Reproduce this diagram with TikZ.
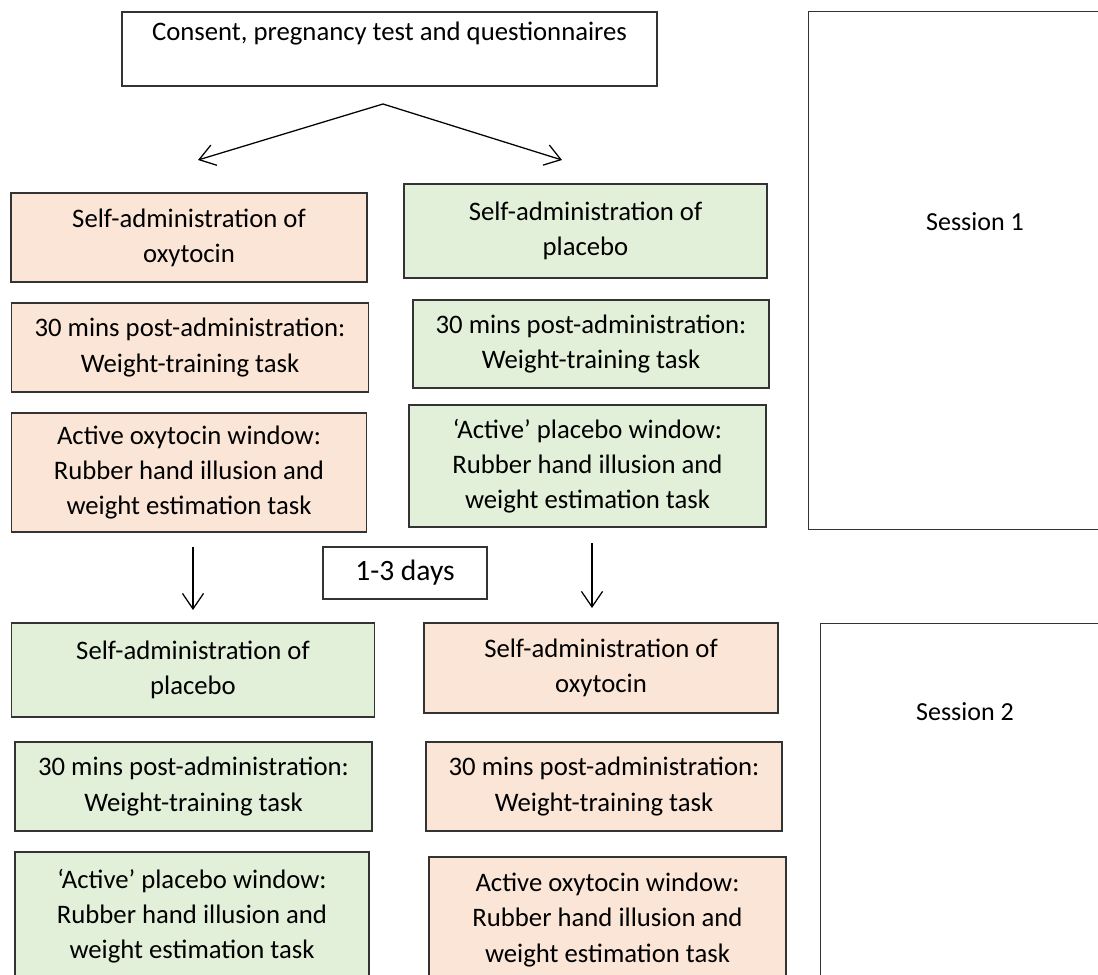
\documentclass[tikz,border=0pt]{standalone}
\usepackage{fontspec}
\setmainfont{Carlito}
\usetikzlibrary{arrows.meta}

\definecolor{oxyfill}{HTML}{FBE5D6}
\definecolor{placfill}{HTML}{E2F0D9}
\definecolor{edgegray}{HTML}{333333}

\begin{document}
\begin{tikzpicture}[x=0.025cm, y=-0.025cm,
  stage/.style={draw=edgegray, line width=0.8pt, align=center, inner sep=0pt,
    font=\fontsize{19}{25}\selectfont},
  boxsize/.style 2 args={minimum width=#1*0.025cm, minimum height=#2*0.025cm},
  oxy/.style={stage, fill=oxyfill},
  plac/.style={stage, fill=placfill},
  plain/.style={stage, fill=white},
  flow/.style={line width=0.9pt, -{Straight Barb[length=11pt, width=15pt]}}]

  % Fix the page to the size of the reference
  \useasboundingbox (0,0) rectangle (1098,974);

  % Frames for the two sessions (they run past the right edge)
  \node[plain, boxsize={320}{518}, anchor=north west] (sess1) at (808,11) {};
  \node[font=\fontsize{18.5}{25}\selectfont] (sess1lbl) at (975,222) {Session 1};
  \node[plain, boxsize={320}{380}, anchor=north west] (sess2) at (820,623) {};
  \node[font=\fontsize{18.5}{25}\selectfont] (sess2lbl) at (965,712) {Session 2};

  % Consent box at the top
  \node[plain, boxsize={535}{74}] (consent) at (389.5,49)
    {Consent, pregnancy test and questionnaires\\~};

  % Split into the two orders
  \coordinate (split) at (383,104);
  \coordinate (toleft) at (198,160);
  \coordinate (toright) at (562,160);
  \draw[flow] (split) -- (toleft);
  \draw[flow] (split) -- (toright);

  % Session 1, oxytocin first
  \node[oxy, boxsize={356}{89}] (oxyA) at (189,237.5) {Self-administration of\\oxytocin};
  \node[oxy, boxsize={357}{89}] (trainA) at (190,347.5) {30 mins post-administration:\\Weight-training task};
  \node[oxy, boxsize={355}{119}] (windowA) at (189,472.5) {Active oxytocin window:\\Rubber hand illusion and\\weight estimation task};

  % Session 1, placebo first
  \node[plac, boxsize={363}{94}] (placA) at (585.5,231) {Self-administration of\\placebo};
  \node[plac, boxsize={356}{88}] (trainB) at (591,344) {30 mins post-administration:\\Weight-training task};
  \node[plac, boxsize={357}{122}] (windowB) at (587.5,466) {`Active' placebo window:\\Rubber hand illusion and\\weight estimation task};

  % Wash-out between the sessions
  \node[plain, boxsize={164}{52}, font=\fontsize{21}{25}\selectfont] (days) at (405,573) {1-3 days};
  \coordinate (downLtop) at (193,547);
  \coordinate (downLend) at (193,610);
  \coordinate (downRtop) at (592,543);
  \coordinate (downRend) at (592,608);
  \draw[flow] (downLtop) -- (downLend);
  \draw[flow] (downRtop) -- (downRend);

  % Session 2, crossed over
  \node[plac, boxsize={363}{94}] (placC) at (193,670) {Self-administration of\\placebo};
  \node[plac, boxsize={357}{89}] (trainC) at (193.5,786.5) {30 mins post-administration:\\Weight-training task};
  \node[plac, boxsize={354}{128}] (windowC) at (192,916) {`Active' placebo window:\\Rubber hand illusion and\\weight estimation task};

  \node[oxy, boxsize={354}{90}] (oxyD) at (601,668) {Self-administration of\\oxytocin};
  \node[oxy, boxsize={356}{89}] (trainD) at (604,786.5) {30 mins post-administration:\\Weight-training task};
  \node[oxy, boxsize={357}{126}] (windowD) at (607.5,920) {Active oxytocin window:\\Rubber hand illusion and\\weight estimation task};

\end{tikzpicture}
\end{document}
